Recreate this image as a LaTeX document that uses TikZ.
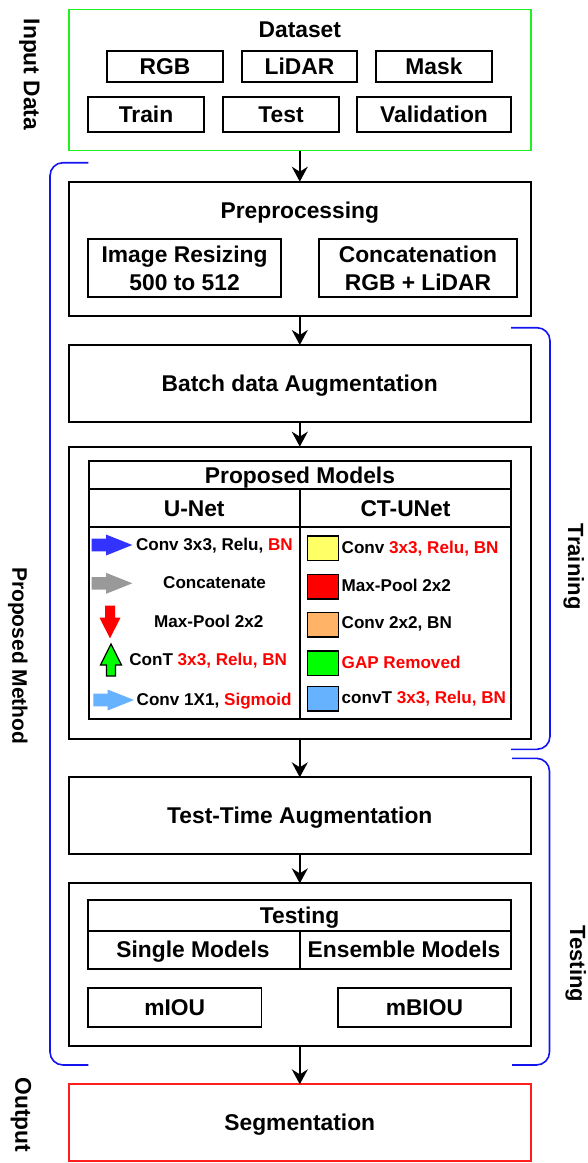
\documentclass[tikz,border=0pt]{standalone}
\usepackage{fontspec}
\setmainfont{Liberation Sans}
\usetikzlibrary{arrows.meta}

\definecolor{dsgreen}{RGB}{34,238,34}
\definecolor{segred}{RGB}{255,30,30}
\definecolor{brblue}{RGB}{20,20,240}
\definecolor{arrblue}{RGB}{51,51,255}
\definecolor{arrgray}{RGB}{153,153,153}
\definecolor{arrlight}{RGB}{102,178,255}
\definecolor{legyellow}{RGB}{255,255,102}
\definecolor{legorange}{RGB}{255,179,102}
\definecolor{leggreen}{RGB}{0,255,0}
\definecolor{legred}{RGB}{255,0,0}
\definecolor{txtred}{RGB}{255,0,0}

\begin{document}
\begin{tikzpicture}[x=1pt,y=-1pt,
  every node/.style={inner sep=0pt, outer sep=0pt},
  big/.style={font=\fontsize{22.8}{28}\selectfont\bfseries, text height=16.3pt, text depth=0pt},
  small/.style={font=\fontsize{17.1}{20}\selectfont\bfseries, text height=12.2pt, text depth=0pt},
  twoline/.style={font=\fontsize{22.8}{28}\selectfont\bfseries, align=center},
  box/.style={draw=black, line width=1.8pt, rectangle},
  swatch/.style={draw=black, line width=1.4pt, minimum width=31pt, minimum height=24.7pt},
  conn/.style={line width=1.8pt, -{Stealth[length=15pt,width=16pt,inset=5pt]}},
  brace/.style={draw=brblue, line width=1.6pt, rounded corners=13pt},
  side/.style={font=\fontsize{22.8}{28}\selectfont\bfseries, rotate=-90, anchor=base},
]
\useasboundingbox (0,0) rectangle (588,1163);

% ---------- input data ----------
\node[box, draw=dsgreen, minimum width=462pt, minimum height=141pt] (data) at (299.8,80) {};
\node[big] (datat) at (299.8,29) {Dataset};
\node[box, big, minimum width=116pt, minimum height=31pt] (rgb) at (165,66.5) {RGB};
\node[box, big, minimum width=115pt, minimum height=31pt] (lidar) at (299.5,66.5) {LiDAR};
\node[box, big, minimum width=116pt, minimum height=31pt] (mask) at (434,66.5) {Mask};
\node[box, big, minimum width=116pt, minimum height=35pt] (train) at (146,114.5) {Train};
\node[box, big, minimum width=116pt, minimum height=35pt] (test) at (281,114.5) {Test};
\node[box, big, minimum width=154pt, minimum height=35pt] (valid) at (434,114.5) {Validation};

% ---------- preprocessing ----------
\node[box, minimum width=462pt, minimum height=134pt] (prep) at (299.8,248.7) {};
\node[big] (prept) at (299.8,210) {Preprocessing};
\node[box, twoline, minimum width=192.7pt, minimum height=58pt] (resize) at (184.6,268) {Image Resizing\\500 to 512};
\node[box, twoline, minimum width=198.6pt, minimum height=58pt] (concat) at (418,268) {Concatenation\\RGB + LiDAR};

% ---------- augmentation ----------
\node[box, big, minimum width=462pt, minimum height=76.7pt] (batch) at (299.8,383.3) {Batch data Augmentation};

% ---------- proposed models ----------
\node[box, minimum width=462pt, minimum height=292.3pt] (models) at (299.8,592.8) {};
\node[box, big, minimum width=422.6pt, minimum height=28.3pt] (pmhead) at (300,474.85) {Proposed Models};
\node[box, big, minimum width=211pt, minimum height=38.3pt] (unethead) at (194.2,508.15) {U-Net};
\node[box, big, minimum width=211.6pt, minimum height=38.3pt] (cthead) at (405.5,508.15) {CT-UNet};
\node[box, minimum width=211pt, minimum height=192pt] (unetbody) at (194.2,623.3) {};
\node[box, minimum width=211.6pt, minimum height=192pt] (ctbody) at (405.5,623.3) {};

% U-Net legend glyphs
\fill[arrblue] (91.7,538.7) -- (106,538.7) -- (106,534.5) -- (132.3,545) -- (106,555.5) -- (106,551.3) -- (91.7,551.3) -- cycle;
\fill[arrgray] (91.7,577) -- (106,577) -- (106,572.8) -- (132.3,583.3) -- (106,593.8) -- (106,589.6) -- (91.7,589.6) -- cycle;
\fill[legred] (105,605.7) -- (115,605.7) -- (115,617.7) -- (120.5,617.7) -- (110,638.3) -- (99.5,617.7) -- (105,617.7) -- cycle;
\filldraw[fill=leggreen, draw=black, line width=1.3pt, line join=miter]
  (111,644) -- (121.5,665) -- (115.5,665) -- (115.5,676) -- (106.5,676) -- (106.5,665) -- (100.5,665) -- cycle;
\fill[arrlight] (93.3,693.7) -- (107.6,693.7) -- (107.6,689.5) -- (134,700) -- (107.6,710.5) -- (107.6,706.3) -- (93.3,706.3) -- cycle;

% U-Net legend texts
\node[small, anchor=west] (u1) at (136,544) {Conv 3x3, Relu, \textcolor{txtred}{BN}};
\node[small] (u2) at (214.5,582.7) {Concatenate};
\node[small] (u3) at (208.8,621) {Max-Pool 2x2};
\node[small, anchor=west] (u4) at (129.3,659.3) {ConT \textcolor{txtred}{3x3, Relu, BN}};
\node[small, anchor=west] (u5) at (136.7,699.3) {Conv 1X1, \textcolor{txtred}{Sigmoid}};

% CT-UNet legend swatches and texts
\node[swatch, fill=legyellow] (s1) at (322.8,548.3) {};
\node[swatch, fill=legred] (s2) at (322.8,586.7) {};
\node[swatch, fill=legorange] (s3) at (322.8,624.8) {};
\node[swatch, fill=leggreen] (s4) at (322.8,663.3) {};
\node[swatch, fill=arrlight] (s5) at (322.8,698.8) {};
\node[small, anchor=west] (c1) at (341.7,547.3) {Conv \textcolor{txtred}{3x3, Relu, BN}};
\node[small, anchor=west] (c2) at (341.7,585.7) {Max-Pool 2x2};
\node[small, anchor=west] (c3) at (341.7,622.3) {Conv 2x2, BN};
\node[small, anchor=west] (c4) at (341.7,662.7) {\textcolor{txtred}{GAP Removed}};
\node[small, anchor=west] (c5) at (341.7,697.3) {convT \textcolor{txtred}{3x3, Relu, BN}};

% ---------- test-time augmentation ----------
\node[box, big, minimum width=462pt, minimum height=77pt] (tta) at (299.8,815.8) {Test-Time Augmentation};

% ---------- testing ----------
\node[box, minimum width=462pt, minimum height=162.7pt] (testing) at (299.8,964.7) {};
\node[box, big, minimum width=422.9pt, minimum height=30.7pt] (testhead) at (299.55,915.65) {Testing};
\node[box, minimum width=211.9pt, minimum height=38.3pt] (single) at (194.05,950.15) {};
\node[box, minimum width=211pt, minimum height=38.3pt] (ensemble) at (405.5,950.15) {};
\node[big] (singlet) at (193,949.3) {Single Models};
\node[big] (ensemblet) at (404,949.3) {Ensemble Models};
\node[box, big, minimum width=173.4pt, minimum height=38.4pt] (miou) at (174.7,1007.5) {mIOU};
\node[box, big, minimum width=173.2pt, minimum height=38.4pt] (mbiou) at (424.4,1007.5) {mBIOU};

% ---------- output ----------
\node[box, draw=segred, big, minimum width=462pt, minimum height=76.7pt] (seg) at (299.8,1122.7) {Segmentation};

% ---------- flow ----------
\draw[conn] (data.south) -- (prep.north);
\draw[conn] (prep.south) -- (batch.north);
\draw[conn] (batch.south) -- (models.north);
\draw[conn] (models.south) -- (tta.north);
\draw[conn] (tta.south) -- (testing.north);
\draw[conn] (testing.south) -- (seg.north);

% ---------- stage brackets ----------
\draw[brace] (88.3,162.7) -| (50,1065) -- (88.3,1065);
\draw[brace] (511,327.7) -| (550,749.3) -- (511,749.3);
\draw[brace] (512,758.3) -| (549.5,1065) -- (512,1065);

% ---------- side labels ----------
\node[side] (lin) at (23.8,74.5) {Input Data};
\node[side, font=\fontsize{21}{26}\selectfont\bfseries] (lpm) at (12.5,655.7) {Proposed Method};
\node[side] (lout) at (15.3,1115) {Output};
\node[side, font=\fontsize{22}{26}\selectfont\bfseries] (ltr) at (568,566.7) {Training};
\node[side, font=\fontsize{22}{26}\selectfont\bfseries] (lte) at (570,964) {Testing};
\end{tikzpicture}
\end{document}
